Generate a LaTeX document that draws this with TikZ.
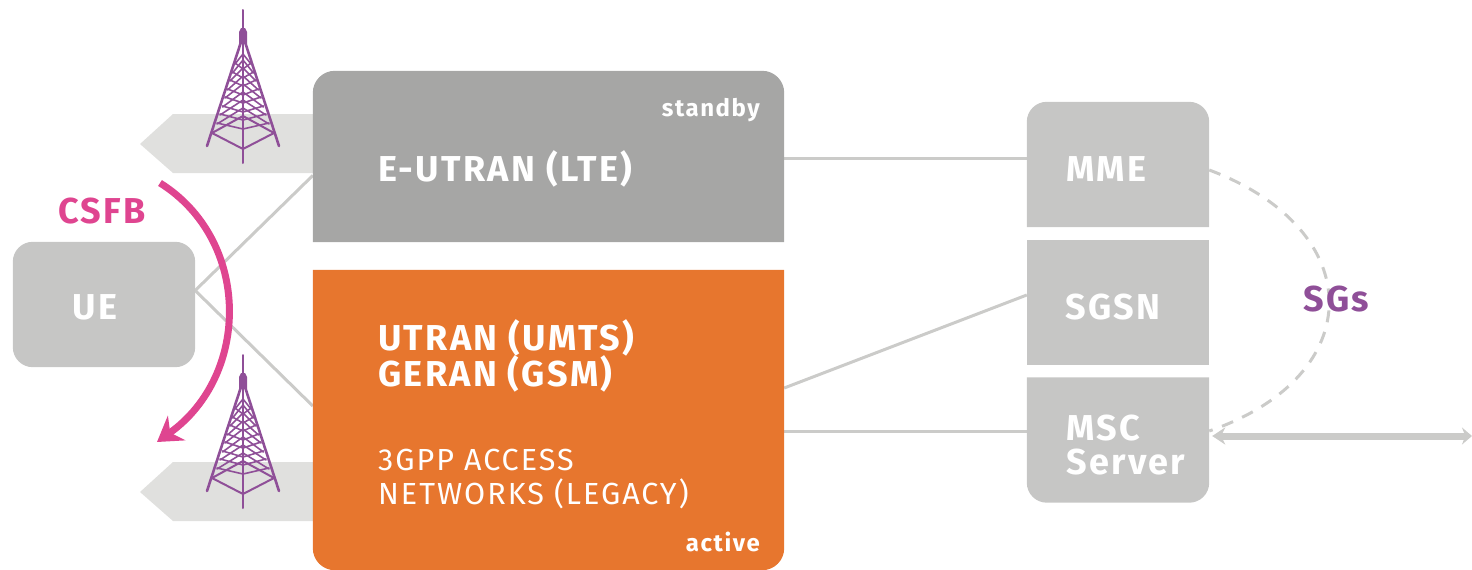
\documentclass[tikz,border=0pt]{standalone}
\usepackage{fontspec}
\setmainfont{Fira Sans}[LetterSpace=6.5]
\usetikzlibrary{arrows.meta,calc}
\definecolor{darkbox}{HTML}{A6A6A5}
\definecolor{lightbox}{HTML}{C6C6C5}
\definecolor{orangebox}{HTML}{E7762E}
\definecolor{beam}{HTML}{E0E0DE}
\definecolor{link}{HTML}{CBCBC9}
\definecolor{csfb}{HTML}{DF4590}
\definecolor{towerc}{HTML}{8F4F98}
\tikzset{
  x=1pt,y=-1pt,
  link line/.style={draw=link,line width=3pt},
  big/.style={text=white,font=\fontsize{36}{36}\selectfont\bfseries,anchor=base west,inner sep=0pt},
  small/.style={text=white,font=\fontsize{24}{24}\selectfont\bfseries,anchor=base east,inner sep=0pt},
  plain/.style={text=white,font=\fontsize{30.5}{31}\selectfont,anchor=base west,inner sep=0pt},
  tower/.pic={
    \begin{scope}[draw=towerc,line width=1.7pt,line cap=round]
      \draw[line width=2pt] (0,10) -- (0,163);
      \fill[towerc] (-4,44) -- (-4,32) -- (-2,28) -- (2,28) -- (4,32) -- (4,44) -- cycle;
      \draw[line width=2.6pt] (-2,42) -- (-36,146);
      \draw[line width=2.6pt] (2,42) -- (36,146);
      \draw[line width=2pt] (-31,133) -- (0,149) -- (31,133);
      \draw[line width=2pt] (-31,133) -- (0,116) -- (31,133);
      \foreach \ya/\yb/\w in {124/108/26,115/100/23,107/92/20.5,98/84/18,90/76/15.5,81/68/13,73/60/10.5,64/54/8}{
        \draw[line width=1.6pt] (-\w,\ya) -- (0,\yb) -- (\w,\ya);
        \draw[line width=1.6pt] (-\w,\ya-1) -- (0,\ya+5) -- (\w,\ya-1);
      }
    \end{scope}
  }
}
\begin{document}
\begin{tikzpicture}
\useasboundingbox (0,0) rectangle (1472,570);
% beams
\fill[beam] (140,144) -- (173,114) -- (320,114) -- (320,173) -- (173,173) -- cycle;
\fill[beam] (140,492) -- (173,462) -- (320,462) -- (320,521) -- (173,521) -- cycle;
% anchors of the boxes
\node[inner sep=0pt,minimum width=471pt,minimum height=171pt] (eutran) at (548.5,156.5) {};
\node[inner sep=0pt,minimum width=471pt,minimum height=300pt] (geran) at (548.5,420) {};
\node[inner sep=0pt,minimum width=182pt,minimum height=125pt] (ue) at (104,304.5) {};
\node[inner sep=0pt,minimum width=182pt,minimum height=125pt] (mme) at (1118,164.5) {};
\node[inner sep=0pt,minimum width=182pt,minimum height=125pt] (sgsn) at (1118,302.5) {};
\node[inner sep=0pt,minimum width=182pt,minimum height=125pt] (msc) at (1118,440) {};
\coordinate (ext) at (1472,436);
% connectors
\draw[link line] ([yshift=14pt]ue.east) -- ([yshift=-19pt]eutran.west);
\draw[link line] ([yshift=14pt]ue.east) -- ([yshift=14pt]geran.west);
\draw[link line] ([yshift=-1.5pt]eutran.east) -- ([yshift=6.5pt]mme.west);
\draw[link line] ([yshift=32pt]geran.east) -- ([yshift=7.5pt]sgsn.west);
\draw[link line] ([yshift=-11pt]geran.east) -- ([yshift=9pt]msc.west);
\draw[link,line width=3pt,dash pattern=on 12pt off 10pt]
  ([yshift=-5.5pt]mme.east) .. controls +(160,60) and +(160,-55) .. ([yshift=9pt]msc.east);
\draw[link,line width=7pt,{Stealth[length=13pt,width=17pt]}-{Stealth[length=10pt,width=17pt]}]
  ([xshift=3pt,yshift=4pt]msc.east) -- (ext);
% boxes
\fill[darkbox,rounded corners=22pt] (eutran.south west) -- (eutran.north west) -- (eutran.north east) -- ([yshift=-60pt]eutran.east) [sharp corners] -- (eutran.south east) -- cycle;
\fill[orangebox] (geran.north west) -- (geran.north east) [rounded corners=22pt] -- (geran.south east) -- (geran.south west) [sharp corners] -- cycle;
\fill[lightbox,rounded corners=20pt] (ue.north west) rectangle (ue.south east);
\fill[lightbox,rounded corners=20pt] (mme.south west) -- (mme.north west) -- (mme.north east) -- ([yshift=-30pt]mme.east) [sharp corners] -- (mme.south east) -- cycle;
\fill[lightbox] (sgsn.north west) rectangle (sgsn.south east);
\fill[lightbox] (msc.north west) -- (msc.north east) [rounded corners=20pt] -- (msc.south east) -- (msc.south west) [sharp corners] -- cycle;
% towers
\pic at (243,0) {tower};
\pic at (243,345) {tower};
% CSFB arc
\draw[csfb,line width=7pt,-{Stealth[length=24pt,width=30pt]}] (160,183) .. controls (251,240) and (251,375) .. (157,442);
% labels
\node[big] (t1) at (378,181) {E-UTRAN (LTE)};
\node[small] (t2) at (760,116) {standby};
\node[big] (t3) at (378,350) {UTRAN (UMTS)};
\node[big] (t4) at (378,386) {GERAN (GSM)};
\node[plain] (t5) at (378,470) {3GPP ACCESS};
\node[plain] (t6) at (378,504) {NETWORKS (LEGACY)};
\node[small] (t7) at (760,551) {active};
\node[big,anchor=base] (t8) at (95,319) {UE};
\node[big] (t9) at (1066,181) {MME};
\node[big] (t10) at (1065,319) {SGSN};
\node[big] (t11) at (1066,440) {MSC};
\node[big] (t12) at (1066,474) {Server};
\node[big,text=csfb] (t13) at (58,223) {CSFB};
\node[big,text=towerc] (t14) at (1303,311) {SGs};
\end{tikzpicture}
\end{document}
